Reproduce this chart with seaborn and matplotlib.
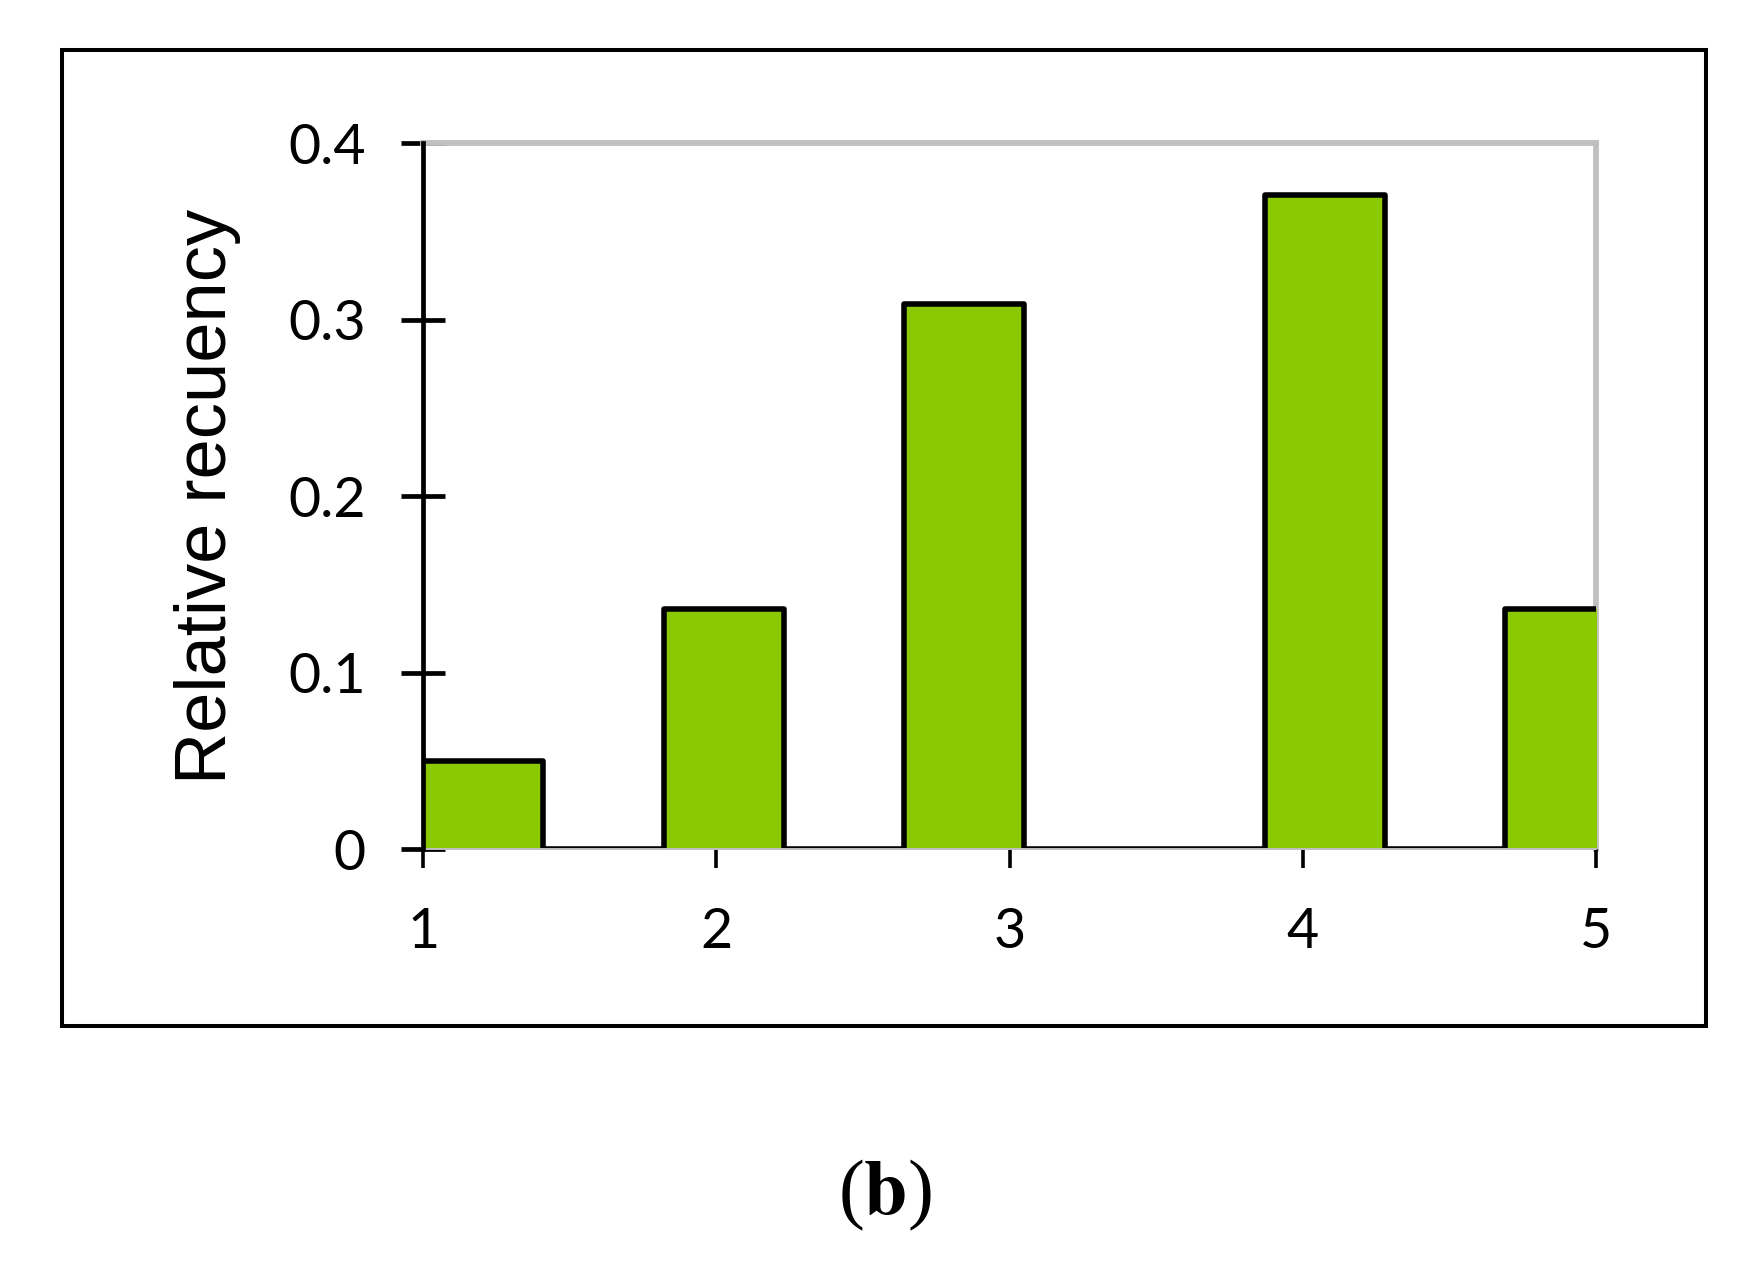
import numpy as np
import seaborn as sns
import matplotlib.pyplot as plt
from matplotlib.patches import Rectangle

# histogram bins (width ~0.41) and relative frequency per bin
bin_edges = [1.0, 1.41, 1.82, 2.23, 2.64, 3.05, 3.46, 3.87, 4.28, 4.69, 5.10]
rel_freq = [0.05, 0.0, 0.136, 0.0, 0.309, 0.0, 0.0, 0.371, 0.0, 0.136]
x_ticks = [1, 2, 3, 4, 5]
y_ticks = [0, 0.1, 0.2, 0.3, 0.4]
y_tick_labels = ["0", "0.1", "0.2", "0.3", "0.4"]

bin_mid = [(a + b) / 2 for a, b in zip(bin_edges[:-1], bin_edges[1:])]

sns.set_style("white")
plt.rcParams['font.family'] = ['Lato', 'DejaVu Sans']
plt.rcParams['text.color'] = 'black'
plt.rcParams['xtick.color'] = 'black'
plt.rcParams['ytick.color'] = 'black'
plt.rcParams['axes.labelcolor'] = 'black'
plt.rcParams['mathtext.fontset'] = 'stix'

fig = plt.figure(figsize=(17.56, 12.72), dpi=100)
ax = fig.add_axes([0.241, 0.3325, 0.668, 0.5547])

green = "#8BC900"
sns.histplot(x=bin_mid, weights=rel_freq, bins=bin_edges, element="step",
             fill=True, color=green, alpha=1, linewidth=0, ax=ax)
sns.histplot(x=bin_mid, weights=rel_freq, bins=bin_edges, element="step",
             fill=False, color="black", linewidth=4, ax=ax)

ax.set_xlim(1, 5)
ax.set_ylim(0, 0.4)
ax.set_xticks(x_ticks)
ax.set_xticklabels([str(t) for t in x_ticks])
ax.set_yticks(y_ticks)
ax.set_yticklabels(y_tick_labels)

ax.spines['left'].set_color('black')
ax.spines['left'].set_linewidth(3.4)
ax.spines['bottom'].set_color('#c0c0c0')
ax.spines['bottom'].set_linewidth(1.4)
for s in ['top', 'right']:
    ax.spines[s].set_color('#c0c0c0')
    ax.spines[s].set_linewidth(4.2)
ax.spines['left'].set_zorder(3)
ax.spines['right'].set_zorder(0.5)

ax.tick_params(axis='y', direction='inout', length=31, width=3.4, color='black',
               labelsize=40, pad=26)
ax.tick_params(axis='x', direction='out', length=14, width=2.6, color='black',
               labelsize=40, pad=28)
ax.tick_params(left=True, bottom=True)

ax.set_xlabel("")
ax.set_ylabel("Relative recuency", fontsize=52, family=['Liberation Sans'])
ax.yaxis.set_label_coords(-0.155, 0.5)

fig.patches.append(Rectangle((0.0351, 0.1935), 0.9363, 0.7669, transform=fig.transFigure,
                             fill=False, edgecolor='black', linewidth=2.9))

fig.text(0.504, 0.06, r"($\mathbf{b}$)", fontsize=56, family='Liberation Serif',
         ha='center', va='center')

plt.savefig('out.png', dpi=100)
